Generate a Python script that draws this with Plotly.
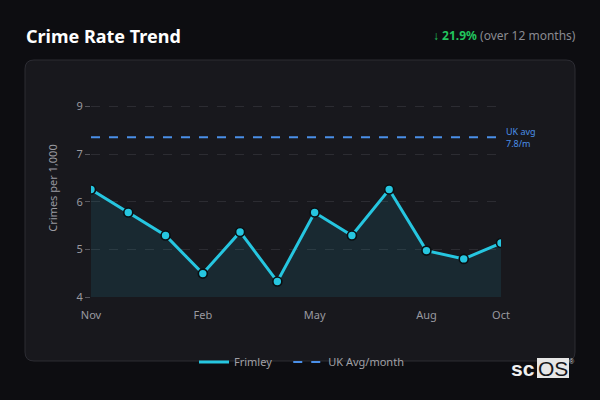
import plotly.graph_objects as go

months = ["Nov", "Dec", "Jan", "Feb", "Mar", "Apr", "May", "Jun", "Jul", "Aug", "Sep", "Oct"]
frimley = [6.51, 5.93, 5.35, 4.39, 5.44, 4.19, 5.93, 5.35, 6.51, 4.97, 4.76, 5.16]
uk_avg = [7.83] * 12
x_tick_labels = ["Nov", "Feb", "May", "Aug", "Oct"]
y_tick_vals = [3.8, 5.0, 6.2, 7.4, 8.6]

BG = "#0d0d11"
W, H = 600, 400
L, R, T, B = 91, 501, 79, 297  # plot area in window px


def px(x):
    return (x - L) / (R - L)


def py(y):
    return (B - y) / (B - T)


fig = go.Figure()
fig.add_trace(go.Scatter(
    x=months, y=frimley, name="Frimley", mode="lines+markers", showlegend=False,
    line=dict(color="#26c6e0", width=3),
    marker=dict(size=9, color="#26c6e0", line=dict(color="#0a0f12", width=1.6)),
    fill="tozeroy", fillcolor="rgba(38,198,224,0.10)",
))
fig.add_trace(go.Scatter(
    x=[None], y=[None], name="Frimley" + "\u00a0" * 4, mode="lines",
    line=dict(color="#26c6e0", width=3),
))
fig.add_trace(go.Scatter(
    x=months, y=uk_avg, name="UK Avg/month", mode="lines",
    line=dict(color="#4a8fe8", width=2, dash="dash"),
))

# card rounded rect
cx0, cy0, cx1, cy1, r = 25, 60, 575, 361, 9
rx = r / (R - L)
ry = r / (B - T)
X0, X1 = px(cx0), px(cx1)
Y0, Y1 = py(cy1), py(cy0)
path = (f"M {X0+rx},{Y1} L {X1-rx},{Y1} Q {X1},{Y1} {X1},{Y1-ry} "
        f"L {X1},{Y0+ry} Q {X1},{Y0} {X1-rx},{Y0} L {X0+rx},{Y0} "
        f"Q {X0},{Y0} {X0},{Y0+ry} L {X0},{Y1-ry} Q {X0},{Y1} {X0+rx},{Y1} Z")
shapes = [
    dict(type="path", xref="paper", yref="paper", path=path,
         fillcolor="#18181d", line=dict(color="#2c2c33", width=1), layer="below"),
    dict(type="rect", xref="paper", yref="paper", x0=px(537), x1=px(569), y0=py(378), y1=py(358),
         fillcolor="#e6e6e6", line=dict(width=0), layer="above"),
]

annotations = [
    dict(xref="paper", yref="paper", x=px(24), y=py(36), xanchor="left", yanchor="middle",
         text="<b>Crime Rate Trend</b>", showarrow=False,
         font=dict(family="Noto Sans", size=18, color="#ffffff")),
    dict(xref="paper", yref="paper", x=px(578), y=py(36), xanchor="right", yanchor="middle",
         text="<span style='color:#22c55e'><b>↓ 21.9%</b></span> <span style='color:#8a8a90'>(over 12 months)</span>",
         showarrow=False, font=dict(family="Noto Sans", size=12, color="#8a8a90")),
    dict(xref="paper", yref="paper", x=px(504), y=py(137), xanchor="left", yanchor="middle",
         text="UK avg<br>7.8/m", showarrow=False, align="left",
         font=dict(family="Noto Sans", size=9, color="#4a8fe8")),
    dict(xref="paper", yref="paper", x=px(537), y=py(368), xanchor="right", yanchor="middle",
         text="<b>sc</b>", showarrow=False,
         font=dict(family="Liberation Sans", size=21, color="#f0f0f0")),
    dict(xref="paper", yref="paper", x=px(553), y=py(368), xanchor="center", yanchor="middle",
         text="OS", showarrow=False,
         font=dict(family="Liberation Sans", size=21, color="#16161a")),
    dict(xref="paper", yref="paper", x=px(572), y=py(361), xanchor="center", yanchor="middle",
         text="®", showarrow=False,
         font=dict(family="Liberation Sans", size=7, color="#cccccc")),
]

fig.update_layout(
    width=W, height=H,
    margin=dict(l=L, r=W - R, t=T, b=H - B, pad=0),
    paper_bgcolor=BG, plot_bgcolor="rgba(0,0,0,0)",
    font=dict(family="Noto Sans", color="#9a9aa0", size=11),
    shapes=shapes, annotations=annotations,
    showlegend=True,
    legend=dict(orientation="h", x=px(194), y=py(362), xanchor="left", yanchor="middle",
                bgcolor="rgba(0,0,0,0)", font=dict(size=11, color="#a0a0a6"),
                itemwidth=30, tracegroupgap=0),
    xaxis=dict(type="category", range=[0, 11], tickmode="array", tickvals=x_tick_labels,
               ticktext=x_tick_labels, showgrid=False, zeroline=False, showline=False,
               ticks="outside", ticklen=8, tickcolor="rgba(0,0,0,0)",
               tickfont=dict(size=11, color="#9a9aa0")),
    yaxis=dict(range=[3.8, 3.8 + (B - T) / 39.67], tickmode="array", tickvals=y_tick_vals,
               tickformat=".0f", showgrid=True, gridcolor="#2c2c32", griddash="dash",
               gridwidth=1, zeroline=False, showline=False, ticks="outside", ticklen=5,
               tickcolor="#55555c", tickfont=dict(size=11, color="#9a9aa0"),
               title=dict(text="Crimes per 1,000", font=dict(size=11, color="#9a9aa0"), standoff=16)),
)

fig.write_html(
    "out.html",
    config={"displayModeBar": False},
    post_script=f"document.body.style.margin='0';document.body.style.background='{BG}';",
)
